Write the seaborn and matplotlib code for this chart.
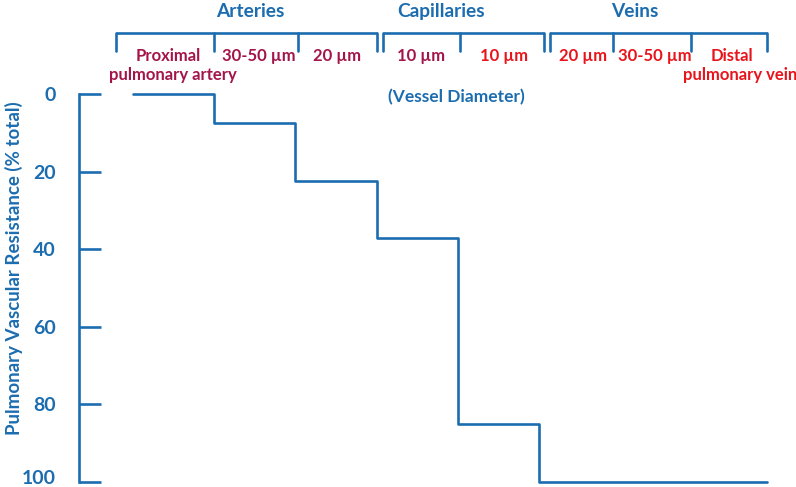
import numpy as np
import pandas as pd
import matplotlib
matplotlib.use('Agg')
import matplotlib.pyplot as plt
import matplotlib.transforms as mtransforms
import seaborn as sns

# step data: cumulative resistance along the vessel path
seg_edges = [0, 1, 2, 3, 4, 5, 7.8]
resistance = [0, 7.5, 22.5, 37, 85, 100, 100]

# bracket groups above the plot (x edges in the same units as seg_edges)
groups = ['Arteries', 'Capillaries', 'Veins']
group_label_x = [1.44, 3.79, 6.17]
group_edges = [
    [-0.2, 1.0, 2.03, 3.0],
    [3.08, 4.02, 5.06],
    [5.13, 5.9, 6.86, 7.8],
]

# vessel diameter labels under the brackets (one entry per text line)
DARK = '#A3154A'
RED = '#E8141B'
seg_text = ['Proximal', 'pulmonary artery', '30-50 µm', '20 µm', '10 µm',
            '10 µm', '20 µm', '30-50 µm', 'Distal', 'pulmonary vein']
seg_text_x = [0.44, 0.49, 1.55, 2.51, 3.54, 4.56, 5.53, 6.42, 7.36, 7.47]
seg_text_row = [0, 1, 0, 0, 0, 0, 0, 0, 0, 1]
seg_text_color = [DARK, DARK, DARK, DARK, DARK, RED, RED, RED, RED, RED]
yticks = [0, 20, 40, 60, 80, 100]

BLUE = '#1C6DB0'

sns.set_style('white')
plt.rcParams['font.family'] = ['Lato', 'DejaVu Sans']
plt.rcParams['font.weight'] = 'bold'

fig = plt.figure(figsize=(7.96, 4.87), dpi=100)
ax = fig.add_axes([79 / 796, 5 / 487, (790 - 79) / 796, 388 / 487])

df = pd.DataFrame({'x': seg_edges, 'y': resistance})
sns.lineplot(data=df, x='x', y='y', drawstyle='steps-post', color=BLUE,
             linewidth=1.9, ax=ax, clip_on=False)

ax.set_xlim(-0.66, (790 - 131.5) / 81.5)
ax.set_ylim(100, 0)
for s in ['top', 'right', 'bottom']:
    ax.spines[s].set_visible(False)
ax.spines['left'].set_color(BLUE)
ax.spines['left'].set_linewidth(1.9)
ax.set_xticks([])
ax.set_yticks(yticks)
ax.tick_params(axis='y', left=True, direction='in', length=16, width=1.9,
               color=BLUE, labelcolor=BLUE, labelsize=14, pad=17)
for lab in ax.get_yticklabels():
    lab.set_fontweight('bold')
# the bottom label sits a little above its tick, as in the original
last = ax.get_yticklabels()[-1]
last.set_transform(last.get_transform() +
                   mtransforms.ScaledTranslation(0, 5 / 100, fig.dpi_scale_trans))
ax.set_xlabel('')
ax.set_ylabel('Pulmonary Vascular Resistance (% total)', color=BLUE,
              fontsize=13.5, fontweight='bold', va='center')
ax.yaxis.set_label_coords(-0.092, 0.55)

# brackets and labels above the plot
y_bar, y_tick = -15.7, -11.2
for g, gx, edges in zip(groups, group_label_x, group_edges):
    ax.plot([edges[0], edges[-1]], [y_bar, y_bar], color=BLUE, lw=1.9,
            clip_on=False, solid_capstyle='butt')
    for e in edges:
        ax.plot([e, e], [y_bar, y_tick], color=BLUE, lw=1.9, clip_on=False)
    ax.text(gx, -21.3, g, color=BLUE, fontsize=13.8,
            fontweight='bold', ha='center', va='center')

row_y = [-9.8, -4.9]
for t, x, r, c in zip(seg_text, seg_text_x, seg_text_row, seg_text_color):
    ax.text(x, row_y[r], t, color=c, fontsize=12, fontweight='bold',
            ha='center', va='center')

ax.text(3.98, 0.8, '(Vessel Diameter)', color=BLUE, fontsize=12.5,
        fontweight='bold', ha='center', va='center')

fig.savefig('out.png', dpi=100)
